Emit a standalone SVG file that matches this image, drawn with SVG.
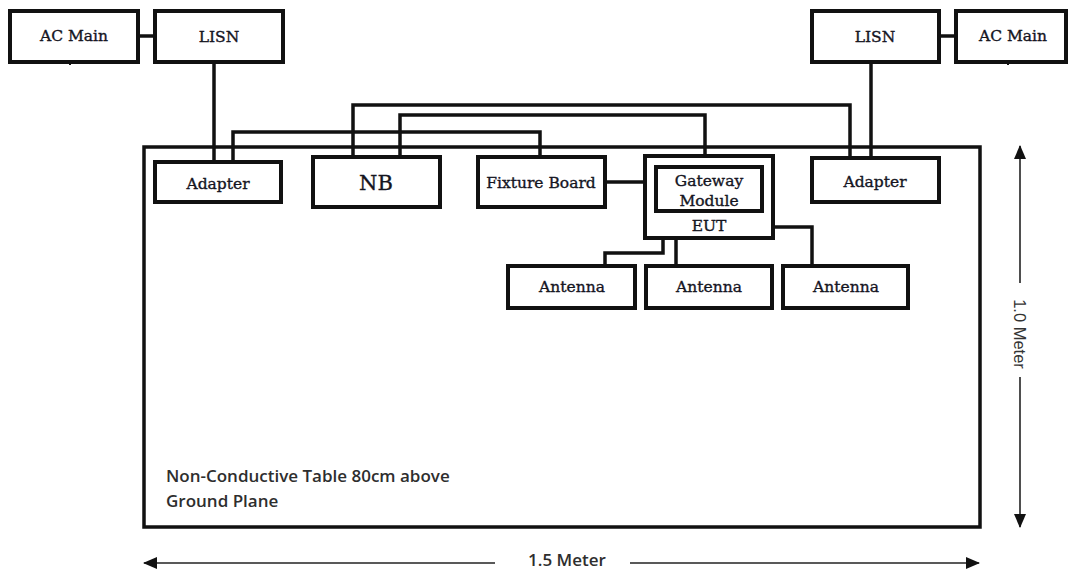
<svg xmlns="http://www.w3.org/2000/svg" width="1074" height="569" viewBox="0 0 1074 569">
<defs>
<style>
.box{fill:#fff;stroke:#111;stroke-width:4}
.t{font-family:"DejaVu Serif","Liberation Serif",serif;font-size:15.5px;fill:#15151f;text-anchor:middle;stroke:#15151f;stroke-width:0.35}
.w{fill:none;stroke:#111;stroke-width:3.5}
.dim{fill:none;stroke:#222;stroke-width:1.6}
.s{font-family:"Open Sans","Liberation Sans",sans-serif;font-size:17px;font-weight:600;fill:#2e2e2e}
</style>
<marker id="ah" markerWidth="14" markerHeight="12" refX="13" refY="6" orient="auto" markerUnits="userSpaceOnUse" viewBox="0 0 14 12">
<path d="M0,0 L14,6 L0,12 z" fill="#111"/>
</marker>
</defs>
<rect width="1074" height="569" fill="#fff"/>
<g id="table">
<rect x="144" y="147" width="836" height="380" fill="none" stroke="#111" stroke-width="3.5"/>
<text class="s" x="166" y="482">Non-Conductive Table 80cm above</text>
<text class="s" x="166" y="507">Ground Plane</text>
</g>
<g id="connectors">
<path class="w" d="M138,36 H155"/>
<path class="w" d="M939,36 H956"/>
<path class="w" d="M214,62 V162"/>
<path class="w" d="M871,62 V158"/>
<path class="w" d="M233,162 V132 H540 V157"/>
<path class="w" d="M353,157 V105 H850 V158"/>
<path class="w" d="M400,157 V115 H705 V156"/>
<path class="w" d="M605,182 H645"/>
<path class="w" d="M663,211 V253 H605 V266"/>
<path class="w" d="M676,211 V266"/>
<path class="w" d="M773,227 H812 V266"/>
<path d="M70,62 V65 M1008,62 V65" stroke="#111" stroke-width="2"/>
</g>
<g id="ac-main-left"><rect class="box" x="10" y="11" width="128" height="51"/><text class="t" x="74" y="41">AC Main</text></g>
<g id="lisn-left"><rect class="box" x="155" y="11" width="128" height="51"/><text class="t" x="219" y="42">LISN</text></g>
<g id="lisn-right"><rect class="box" x="812" y="11" width="127" height="51"/><text class="t" x="875" y="42">LISN</text></g>
<g id="ac-main-right"><rect class="box" x="956" y="11" width="110" height="51"/><text class="t" x="1013" y="41">AC Main</text></g>
<g id="adapter-left"><rect class="box" x="155" y="162" width="126" height="40"/><text class="t" x="218" y="189">Adapter</text></g>
<g id="nb"><rect class="box" x="313" y="157" width="127" height="50"/><text class="t" x="376" y="190" style="font-size:21px">NB</text></g>
<g id="fixture-board"><rect class="box" x="478" y="157" width="127" height="50"/><text class="t" x="541" y="188">Fixture Board</text></g>
<g id="eut"><rect class="box" x="645" y="156" width="128" height="82"/><text class="t" x="709" y="231">EUT</text></g>
<g id="gateway-module"><rect class="box" x="656" y="167" width="106" height="44"/><text class="t" x="709" y="186">Gateway</text><text class="t" x="709" y="206">Module</text></g>
<g id="adapter-right"><rect class="box" x="812" y="158" width="127" height="44"/><text class="t" x="875" y="187">Adapter</text></g>
<g id="antenna-1"><rect class="box" x="508" y="266" width="127" height="42"/><text class="t" x="572" y="292">Antenna</text></g>
<g id="antenna-2"><rect class="box" x="646" y="266" width="126" height="42"/><text class="t" x="709" y="292">Antenna</text></g>
<g id="antenna-3"><rect class="box" x="783" y="266" width="125" height="42"/><text class="t" x="846" y="292">Antenna</text></g>
<g id="dimensions">
<path class="dim" d="M1020,283 V146" marker-end="url(#ah)"/>
<path class="dim" d="M1020,377 V527" marker-end="url(#ah)"/>
<text font-family="'Liberation Sans',Arial,sans-serif" font-size="16.5" fill="#333" text-anchor="middle" transform="translate(1014,334) rotate(90)">1.0 Meter</text>
<path class="dim" d="M495,563 H144" marker-end="url(#ah)"/>
<path class="dim" d="M630,563 H979" marker-end="url(#ah)"/>
<text class="s" x="528" y="566">1.5 Meter</text>
</g>
</svg>
